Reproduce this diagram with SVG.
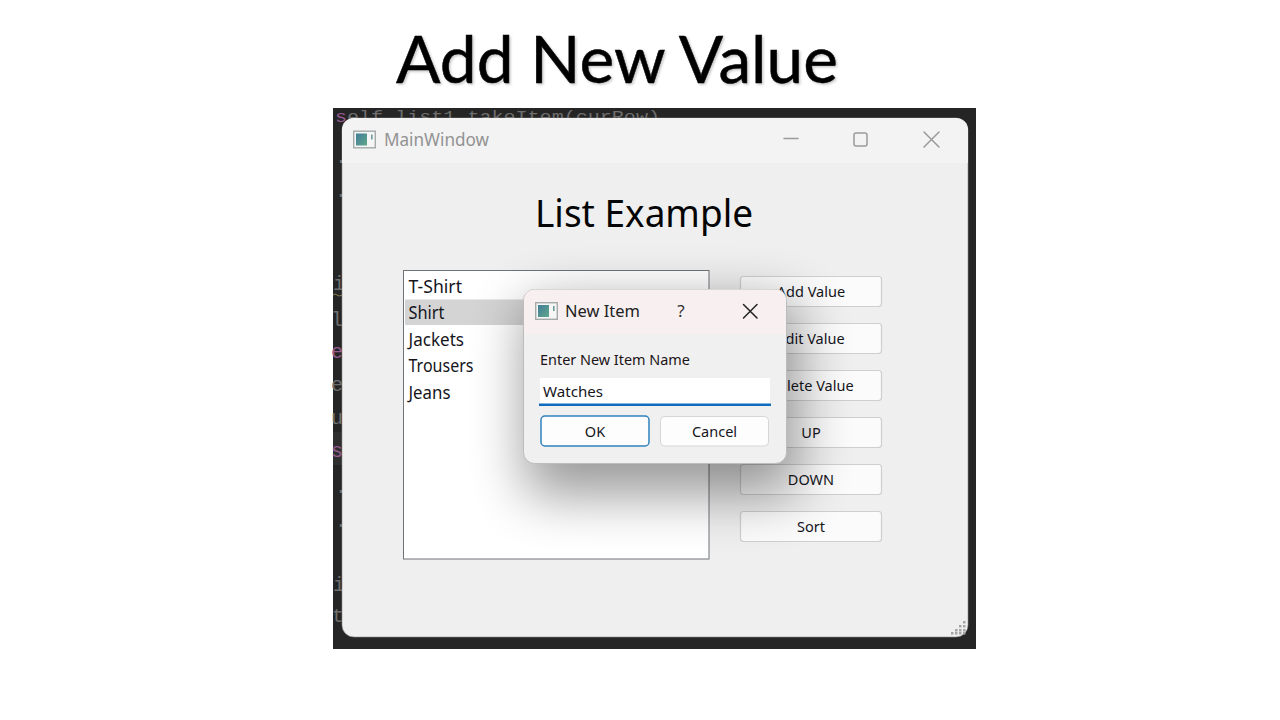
<svg xmlns="http://www.w3.org/2000/svg" width="1280" height="720" viewBox="0 0 1280 720">
<style>
text{font-family:"Noto Sans","Open Sans","Liberation Sans",sans-serif;fill:#111}
.code{font-family:"Liberation Mono",monospace;font-size:20px;fill:#6e6e6e}
.mag{fill:#94598e}
.item{font-size:18px;fill:#15151c}
.btn{fill:#fbfbfb;stroke:#cfcfcf;stroke-width:1.2}
.lbl{font-size:14.5px;text-anchor:middle;fill:#15151c}
.gl{fill:none;stroke-width:1.5;stroke-linecap:round}
</style>
<defs>
<filter id="ds" x="-60%" y="-80%" width="220%" height="260%"><feGaussianBlur stdDeviation="27"/></filter>
<filter id="ts" x="-5%" y="-10%" width="110%" height="130%"><feDropShadow dx="1.500" dy="1.500" stdDeviation="1.200" flood-color="#000" flood-opacity=".22"/></filter>
<linearGradient id="teal" x1="0" y1="0" x2="1" y2="1"><stop offset="0" stop-color="#2f6f8f"/><stop offset="1" stop-color="#4f9f7f"/></linearGradient>
<clipPath id="win"><rect x="342" y="118" width="626" height="519" rx="12"/></clipPath>
<g id="appicon"><rect x=".7" y=".7" width="21.6" height="16.6" fill="#f6f6f6" stroke="#a5aaaa" stroke-width="1.4"/><rect x="3" y="3" width="11" height="12" fill="url(#teal)" opacity=".9"/><rect x="18" y="4" width="1.6" height="5" fill="#6a9a9a"/></g>
</defs>
<rect width="1280" height="720" fill="#fff"/>
<text id="heading" x="396" y="83" font-size="65" textLength="442" lengthAdjust="spacingAndGlyphs" filter="url(#ts)" stroke="#000" stroke-width=".5" style="font-family:Lato,'Noto Sans',sans-serif;fill:#000">Add New Value</text>
<g id="backdrop">
<rect x="333" y="108" width="643" height="541" fill="#252525"/>
<rect x="333" y="432" width="12" height="33" fill="#2f2f2f"/>
<text class="code" x="335" y="122" style="font-size:16px" textLength="325" lengthAdjust="spacingAndGlyphs"><tspan class="mag">s</tspan>elf.list1.takeItem(curRow)</text>
<text class="code" x="335" y="163">.</text><text class="code" x="335" y="197">.</text>
<text class="code" x="333" y="290">i</text>
<path d="M333 295q2 -2 4 0t5 0" stroke="#8a8050" fill="none"/>
<text class="code" x="331" y="326">l</text>
<text class="code mag" x="331" y="358">e</text>
<text class="code" x="331" y="391">e</text>
<text class="code" x="331" y="424">u</text>
<text class="code mag" x="331" y="457">s</text>
<text class="code" x="335" y="493">.</text><text class="code" x="335" y="527">.</text>
<text class="code" x="333" y="591">i</text>
<text class="code" x="332" y="622">t</text>
</g>
<g id="main-window">
<rect x="342" y="118" width="626" height="519" rx="12" fill="#efefef" stroke="#8a8a8a" stroke-width=".6"/>
<path d="M342 163V130a12 12 0 0 1 12-12H956a12 12 0 0 1 12 12V163Z" fill="#f3f3f3"/>
<use href="#appicon" x="353" y="130.500"/>
<text x="384" y="146" font-size="18" textLength="105" lengthAdjust="spacingAndGlyphs" style="fill:#929292">MainWindow</text>
<path d="M784 138.500H798" class="gl" stroke="#9a9a9a"/><rect x="854" y="133" width="13" height="13" rx="2" class="gl" stroke="#9a9a9a"/><path d="M924 132L939 147M939 132L924 147" class="gl" stroke="#9a9a9a"/>
<text x="535" y="227" font-size="38" textLength="218" lengthAdjust="spacingAndGlyphs" style="fill:#050505">List Example</text>
<g fill="#a5a5a5"><rect x="963" y="621" width="2.500" height="2.500"/><rect x="959" y="625" width="2.500" height="2.500"/><rect x="963" y="625" width="2.500" height="2.500"/><rect x="955" y="629" width="2.500" height="2.500"/><rect x="959" y="629" width="2.500" height="2.500"/><rect x="963" y="629" width="2.500" height="2.500"/><rect x="951" y="632" width="2.500" height="2.500"/><rect x="955" y="632" width="2.500" height="2.500"/><rect x="959" y="632" width="2.500" height="2.500"/><rect x="963" y="632" width="2.500" height="2.500"/></g>
</g>
<g id="list">
<rect x="403.500" y="270.500" width="305.500" height="288.500" fill="#fff" stroke="#6e7378" stroke-width="1"/>
<rect x="405" y="299.500" width="125" height="25.500" fill="#d4d4d4"/>
<text class="item" x="408.500" y="293" textLength="53.500" lengthAdjust="spacingAndGlyphs">T-Shirt</text>
<text class="item" x="408.500" y="319" textLength="36" lengthAdjust="spacingAndGlyphs">Shirt</text>
<text class="item" x="408.500" y="346" textLength="55.500" lengthAdjust="spacingAndGlyphs">Jackets</text>
<text class="item" x="408.500" y="372" textLength="65" lengthAdjust="spacingAndGlyphs">Trousers</text>
<text class="item" x="408.500" y="399" textLength="42" lengthAdjust="spacingAndGlyphs">Jeans</text>
</g>
<g id="btn-add"><rect class="btn" x="740.500" y="276.500" width="141" height="30" rx="3"/><text class="lbl" x="811" y="297">Add Value</text></g>
<g id="btn-edit"><rect class="btn" x="740.500" y="323.500" width="141" height="30" rx="3"/><text class="lbl" x="811" y="344">Edit Value</text></g>
<g id="btn-delete"><rect class="btn" x="740.500" y="370.500" width="141" height="30" rx="3"/><text class="lbl" x="811" y="391">Delete Value</text></g>
<g id="btn-up"><rect class="btn" x="740.500" y="417.500" width="141" height="30" rx="3"/><text class="lbl" x="811" y="438">UP</text></g>
<g id="btn-down"><rect class="btn" x="740.500" y="464.500" width="141" height="30" rx="3"/><text class="lbl" x="811" y="485">DOWN</text></g>
<g id="btn-sort"><rect class="btn" x="740.500" y="511.500" width="141" height="30" rx="3"/><text class="lbl" x="811" y="532">Sort</text></g>
<g clip-path="url(#win)"><rect x="525" y="303" width="272" height="192" rx="12" fill="#000" opacity=".4" filter="url(#ds)"/></g>
<g id="dialog">
<rect x="523.500" y="289.500" width="263" height="174" rx="11" fill="#f0f0f0" stroke="#bcbcbc"/>
<path d="M524 334V300a10.500 10.500 0 0 1 10.500-10.500H775.500a10.500 10.500 0 0 1 10.500 10.500V334Z" fill="#f8f0f0"/>
<use href="#appicon" x="535" y="302"/>
<text x="565" y="317" font-size="17" textLength="75" lengthAdjust="spacingAndGlyphs" style="fill:#222">New Item</text>
<text x="681" y="317" font-size="17" text-anchor="middle" style="fill:#333">?</text>
<path d="M743.500 304.500L757 318M757 304.500L743.500 318" class="gl" stroke="#222"/>
<text x="540" y="365" font-size="14.500" textLength="150" lengthAdjust="spacingAndGlyphs" style="fill:#1c1418">Enter New Item Name</text>
<rect x="540" y="378" width="230" height="26" fill="#fff"/>
<rect x="539" y="403.500" width="232" height="2.500" fill="#0f6cbd"/>
<text x="543" y="397" font-size="14.500" textLength="60" lengthAdjust="spacingAndGlyphs" style="fill:#15151c">Watches</text>
<rect x="541" y="416" width="108" height="30" rx="4" fill="#fdfdfd" stroke="#2f82bd" stroke-width="1.5"/>
<text class="lbl" x="595" y="437">OK</text>
<rect x="660.500" y="416.500" width="108" height="29.500" rx="4" fill="#fdfdfd" stroke="#d6d6d6"/>
<text class="lbl" x="714.500" y="437">Cancel</text>
</g>
</svg>
